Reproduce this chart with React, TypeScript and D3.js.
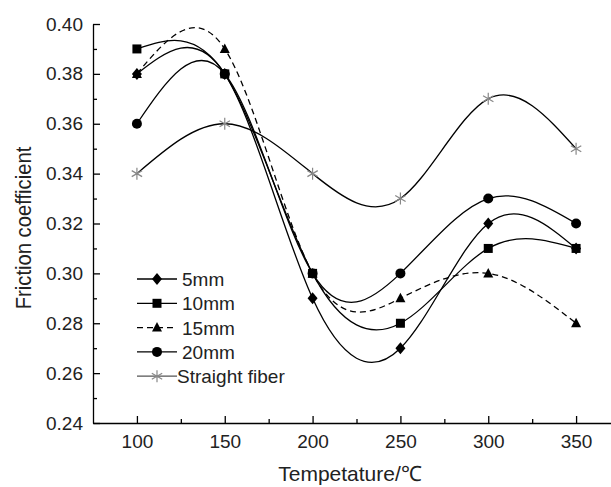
import React, { useEffect, useRef } from 'react';
import * as d3 from 'd3';

// chart data
const temps = [100, 150, 200, 250, 300, 350];
const mm5 = [0.38, 0.38, 0.29, 0.27, 0.32, 0.31];
const mm10 = [0.39, 0.38, 0.3, 0.28, 0.31, 0.31];
const mm15 = [0.38, 0.39, 0.3, 0.29, 0.3, 0.28];
const mm20 = [0.36, 0.38, 0.3, 0.3, 0.33, 0.32];
const straight = [0.34, 0.36, 0.34, 0.33, 0.37, 0.35];
const seriesNames = ['5mm', '10mm', '15mm', '20mm', 'Straight fiber'];
const xTicks = [100, 150, 200, 250, 300, 350];
const yTicks = [0.24, 0.26, 0.28, 0.3, 0.32, 0.34, 0.36, 0.38, 0.4];

const W = 611;
const H = 487;
const margin = { top: 24, left: 93, bottom: 64 };

const FONT = 'Arial, "Liberation Sans", sans-serif';

const App = () => {
  const ref = useRef<SVGSVGElement>(null);

  useEffect(() => {
    const svg = d3.select(ref.current);
    svg.selectAll('*').remove();

    const x = d3.scaleLinear().domain([75, 375]).range([margin.left, 620]);
    const y = d3.scaleLinear().domain([0.24, 0.4]).range([H - margin.bottom, margin.top]);

    const series = [
      { name: seriesNames[0], values: mm5, marker: 'diamond', dash: null, color: '#000' },
      { name: seriesNames[1], values: mm10, marker: 'square', dash: null, color: '#000' },
      { name: seriesNames[2], values: mm15, marker: 'triangle', dash: '6,4', color: '#000' },
      { name: seriesNames[3], values: mm20, marker: 'circle', dash: null, color: '#000' },
      { name: seriesNames[4], values: straight, marker: 'asterisk', dash: null, color: '#888' }
    ];

    // axes: ticks point inward
    const gx = svg.append('g').attr('transform', `translate(0,${H - margin.bottom})`);
    gx.call(
      d3.axisBottom(x).tickValues(xTicks).tickSize(-7).tickSizeOuter(0).tickPadding(12).tickFormat(d3.format('d'))
    );
    gx.append('g').call(
      d3.axisBottom(x).tickValues([125, 175, 225, 275, 325, 375]).tickSize(-4).tickFormat(() => '')
    ).select('.domain').remove();

    const gy = svg.append('g').attr('transform', `translate(${margin.left},0)`);
    gy.call(d3.axisLeft(y).tickValues(yTicks).tickSize(-7).tickSizeOuter(0).tickPadding(10).tickFormat(d3.format('.2f')));
    gy.append('g').call(
      d3.axisLeft(y).tickValues(d3.range(0.25, 0.4, 0.02)).tickSize(-4).tickFormat(() => '')
    ).select('.domain').remove();

    svg.selectAll('.domain, .tick line').attr('stroke', '#000').attr('stroke-width', 1.3);
    svg.selectAll('.tick text').attr('font-size', 19).attr('font-family', FONT).attr('fill', '#222');

    svg.append('text')
      .attr('transform', `translate(31,228) rotate(-90) scale(0.92,1)`)
      .attr('text-anchor', 'middle')
      .attr('font-size', 22)
      .attr('font-family', FONT)
      .attr('fill', '#222')
      .text('Friction coefficient');

    svg.append('text')
      .attr('x', 350)
      .attr('y', 481)
      .attr('text-anchor', 'middle')
      .attr('font-size', 21)
      .attr('font-family', FONT)
      .attr('fill', '#222')
      .text('Tempetature/℃');

    const line = d3.line<number>()
      .x((d, i) => x(temps[i]))
      .y(d => y(d))
      .curve(d3.curveNatural);

    const drawMarker = (g: any, kind: string, cx: number, cy: number, color: string) => {
      if (kind === 'diamond') {
        g.append('path').attr('d', `M${cx},${cy - 6}L${cx + 5},${cy}L${cx},${cy + 6}L${cx - 5},${cy}Z`).attr('fill', color);
      } else if (kind === 'square') {
        g.append('rect').attr('x', cx - 4.5).attr('y', cy - 4.5).attr('width', 9).attr('height', 9).attr('fill', color);
      } else if (kind === 'triangle') {
        g.append('path').attr('d', `M${cx},${cy - 5.5}L${cx + 5},${cy + 4}L${cx - 5},${cy + 4}Z`).attr('fill', color);
      } else if (kind === 'circle') {
        g.append('circle').attr('cx', cx).attr('cy', cy).attr('r', 5).attr('fill', color);
      } else {
        const r = 6;
        const d = [0, 60, 120].map(a => {
          const t = (a * Math.PI) / 180 + Math.PI / 2;
          return `M${cx - r * Math.cos(t)},${cy - r * Math.sin(t)}L${cx + r * Math.cos(t)},${cy + r * Math.sin(t)}`;
        }).join('');
        g.append('path').attr('d', d).attr('stroke', color).attr('stroke-width', 1.2).attr('fill', 'none');
      }
    };

    const plot = svg.append('g');
    series.forEach(s => {
      plot.append('path')
        .attr('d', line(s.values))
        .attr('fill', 'none')
        .attr('stroke', '#000')
        .attr('stroke-width', 1.3)
        .attr('stroke-dasharray', s.dash);
      s.values.forEach((v, i) => drawMarker(plot, s.marker, x(temps[i]), y(v), s.color));
    });

    // legend
    const lg = svg.append('g');
    series.forEach((s, i) => {
      const ly = 279 + i * 24.3;
      lg.append('line')
        .attr('x1', 137).attr('x2', 177).attr('y1', ly).attr('y2', ly)
        .attr('stroke', s.marker === 'asterisk' ? '#555' : '#000')
        .attr('stroke-width', 1.3)
        .attr('stroke-dasharray', s.dash);
      drawMarker(lg, s.marker, 157, ly, s.color);
      lg.append('text')
        .attr('x', s.marker === 'asterisk' ? 177 : 182).attr('y', ly + 7)
        .attr('font-size', 19)
        .attr('font-family', FONT)
        .attr('fill', '#222')
        .text(s.name);
    });
  }, []);

  return (
    <svg ref={ref} width={W} height={H} style={{ position: 'absolute', left: 0, top: 0, background: '#fff' }} />
  );
};

export default App;
